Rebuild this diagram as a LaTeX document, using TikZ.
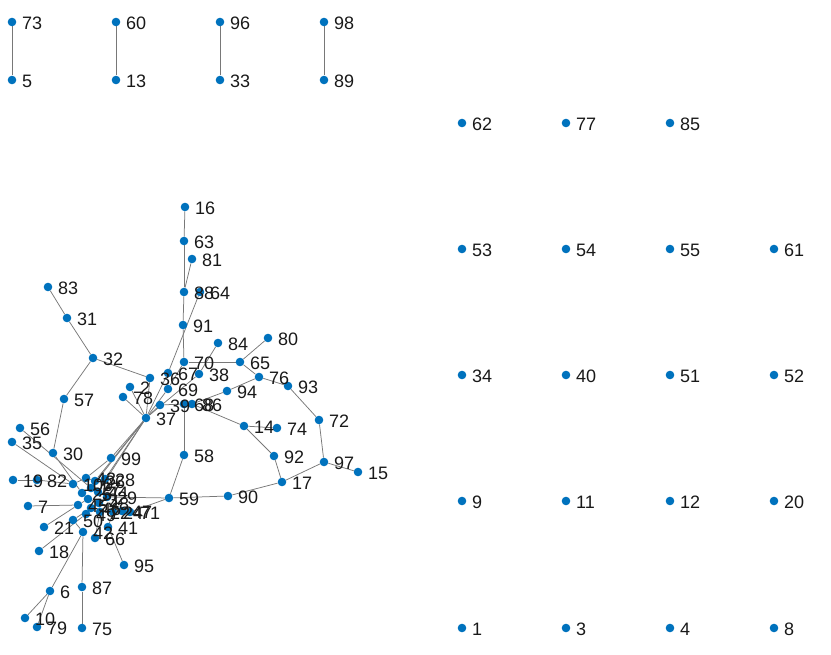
\documentclass[tikz,border=0pt]{standalone}
\usepackage{fontspec}
\setmainfont{Liberation Sans}
\usetikzlibrary{backgrounds}
\definecolor{mblue}{RGB}{0,114,189}
\definecolor{egray}{RGB}{120,120,120}
\definecolor{tgray}{RGB}{25,25,25}
\pgfdeclarelayer{fg}
\pgfsetlayers{background,main,fg}
\tikzset{
  dot/.style={circle, fill=mblue, draw=none, inner sep=0pt, minimum size=8.6pt},
  lab/.style={anchor=west, inner sep=0pt, text=tgray, font=\fontsize{18}{18}\selectfont},
  edge/.style={draw=egray, line width=0.75pt}
}
\newcommand{\gn}[3]{%
  \node[dot] (n#1) at (#2,#3) {};
  \begin{pgfonlayer}{fg}\node[lab] (t#1) at ([xshift=10pt,yshift=-1.5pt]n#1.center) {#1};\end{pgfonlayer}%
}
\begin{document}
\begin{tikzpicture}[x=1pt,y=-1pt]
\useasboundingbox (0,0) rectangle (831,655);
% pairs
\gn{73}{12}{22} \gn{5}{12}{80}
\gn{60}{116}{22} \gn{13}{116}{80}
\gn{96}{220}{22} \gn{33}{220}{80}
\gn{98}{324}{22} \gn{89}{324}{80}
% isolated
\gn{62}{462}{123} \gn{77}{566}{123} \gn{85}{670}{123}
\gn{53}{462}{249} \gn{54}{566}{249} \gn{55}{670}{249} \gn{61}{774}{249}
\gn{34}{462}{375} \gn{40}{566}{375} \gn{51}{670}{375} \gn{52}{774}{375}
\gn{9}{462}{501} \gn{11}{566}{501} \gn{12}{670}{501} \gn{20}{774}{501}
\gn{1}{462}{628} \gn{3}{566}{628} \gn{4}{670}{628} \gn{8}{774}{628}
% main component
\gn{16}{185}{207} \gn{63}{184}{241} \gn{81}{192}{259} \gn{88}{184}{292}
\gn{64}{200}{292} \gn{91}{183}{325} \gn{70}{184}{362} \gn{65}{240}{362}
\gn{84}{218}{343} \gn{80}{268}{338} \gn{38}{199}{374} \gn{67}{168}{373}
\gn{36}{150}{378} \gn{2}{130}{387} \gn{78}{123}{397} \gn{69}{168}{389}
\gn{39}{160}{405} \gn{68}{184}{404} \gn{86}{192}{404} \gn{37}{146}{418}
\gn{94}{227}{391} \gn{76}{259}{377} \gn{93}{288}{386} \gn{72}{319}{420}
\gn{14}{244}{426} \gn{74}{277}{428} \gn{92}{274}{456} \gn{58}{184}{455}
\gn{97}{324}{462} \gn{15}{358}{472} \gn{17}{282}{482} \gn{90}{228}{496}
\gn{59}{169}{498} \gn{71}{130}{512} \gn{41}{108}{527} \gn{66}{95}{538}
\gn{42}{83}{532} \gn{95}{124}{565} \gn{87}{82}{587} \gn{75}{82}{628}
\gn{6}{50}{591} \gn{10}{25}{618} \gn{79}{37}{627} \gn{18}{39}{551}
\gn{21}{44}{527} \gn{50}{73}{520} \gn{7}{28}{506} \gn{19}{13}{480}
\gn{82}{37}{480} \gn{100}{73}{484} \gn{35}{12}{442} \gn{56}{20}{428}
\gn{30}{53}{453} \gn{57}{64}{399} \gn{32}{93}{358} \gn{31}{67}{318}
\gn{83}{48}{287} \gn{99}{111}{458}
% dense cluster
\gn{43}{86}{478} \gn{26}{95}{481} \gn{28}{105}{479} \gn{27}{91}{488}
\gn{25}{82}{493} \gn{44}{98}{492} \gn{23}{88}{499} \gn{29}{107}{497}
\gn{48}{99}{503} \gn{46}{91}{508} \gn{45}{78}{505} \gn{22}{100}{512}
\gn{24}{113}{512} \gn{47}{122}{511} \gn{49}{86}{514}
\begin{pgfonlayer}{background}
\foreach \a/\b in {73/5,60/13,96/33,98/89,
  16/63,63/88,81/88,88/91,91/70,64/67,70/65,65/80,65/76,76/93,84/38,70/69,
  67/37,36/37,69/37,38/37,2/37,78/37,39/37,39/68,68/86,86/94,94/76,86/14,
  14/74,14/92,92/17,17/90,17/97,97/72,72/93,97/15,90/59,59/58,58/68,59/71,
  59/29,32/36,32/31,31/83,32/57,57/30,30/25,56/27,35/100,19/82,82/100,7/45,
  21/45,18/49,50/46,42/50,42/87,87/75,42/6,6/10,6/79,41/95,41/24,66/22,
  99/37,99/43,37/28,37/26,37/27,37/44,71/47,71/24,
  100/43,43/26,26/28,27/44,25/23,44/29,23/48,48/22,46/49,45/23,22/24,24/47,
  27/25,29/48,46/48}
  \draw[edge] (n\a) -- (n\b);
\end{pgfonlayer}
\end{tikzpicture}
\end{document}
